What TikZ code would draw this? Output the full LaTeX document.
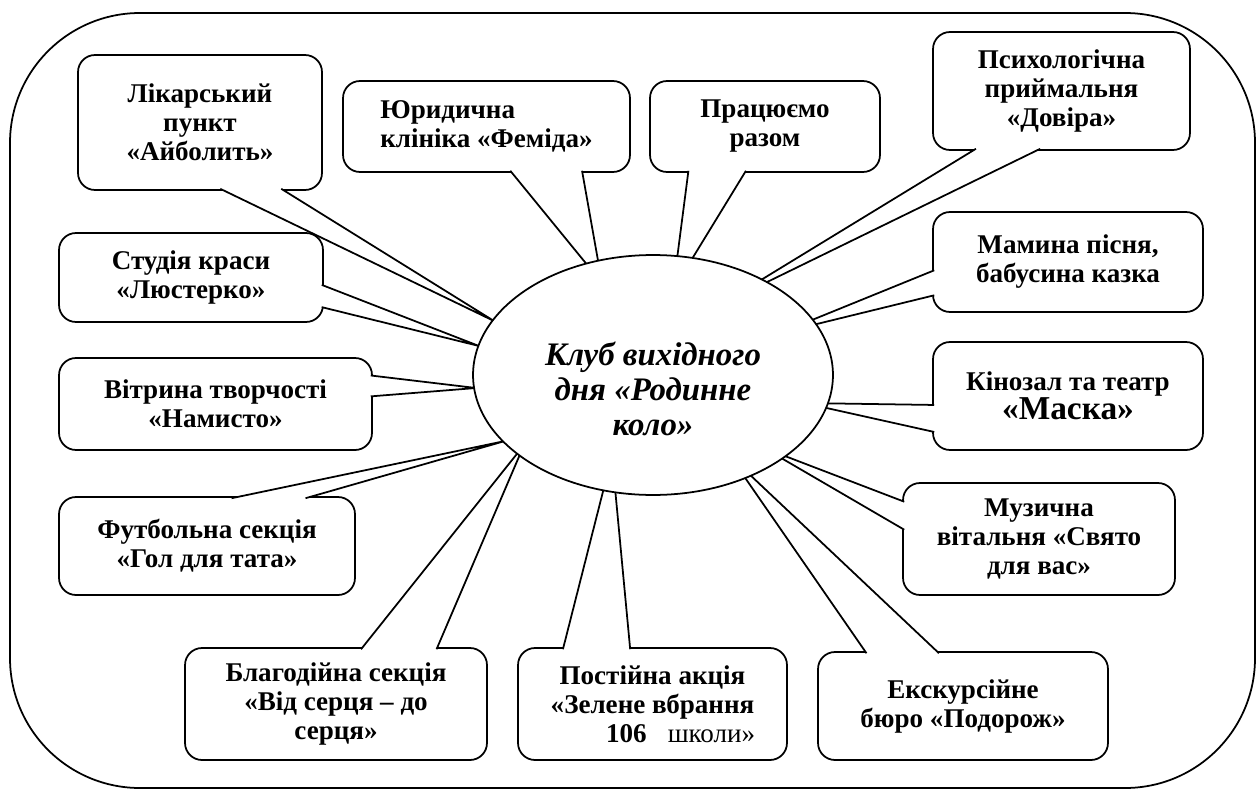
\documentclass[tikz,border=0pt]{standalone}
\usepackage{fontspec}
\setmainfont{Liberation Serif}
\usetikzlibrary{calc,shapes.geometric}

\tikzset{
  callout/.style={draw, fill=white, line width=1pt, rounded corners=0.34cm, align=center,
    inner sep=0pt, outer sep=0pt, font=\fontsize{15.4}{16.5}\selectfont\bfseries},
  wedge/.style={draw, fill=white, line width=1pt},
  club/.style={ellipse, draw, fill=white, line width=1pt, inner sep=0pt, outer sep=0pt,
    minimum width=7.2cm, minimum height=4.8cm, align=center,
    font=\fontsize{18.7}{20}\selectfont\bfseries\itshape}
}

\begin{document}
\begin{tikzpicture}[x=0.02cm, y=-0.02cm]
\useasboundingbox (0,0) rectangle (1258,791);
\draw[line width=1pt, rounded corners=2.6cm] (10,13) rectangle (1255,788);

% the callouts
\node[callout, minimum width=4.88cm, minimum height=2.70cm] (lik) at (200,122.5) {Лікарський\\пункт\\«Айболить»};
\node[callout, align=left, minimum width=5.74cm, minimum height=1.82cm] (jur) at (486.5,126.5) {Юридична\\клініка «Феміда»};
\node[callout, minimum width=4.60cm, minimum height=1.82cm] (prac) at (765,126.5) {Працюємо\\разом};
\node[callout, minimum width=5.14cm, minimum height=2.36cm] (psy) at (1061.5,91) {Психологічна\\приймальня\\«Довіра»};
\node[callout, minimum width=5.40cm, minimum height=2.00cm] (mam) at (1068,262) {Мамина пісня,\\бабусина казка};
\node[callout, minimum width=5.40cm, minimum height=2.16cm] (kino) at (1068,396) {Кінозал та театр\\{\fontsize{19}{20}\selectfont «Маска»}};
\node[callout, minimum width=5.44cm, minimum height=2.24cm] (muz) at (1039,539) {Музична\\вітальня «Свято\\для вас»};
\node[callout, minimum width=5.80cm, minimum height=2.16cm] (eks) at (963,706) {Екскурсійне\\бюро «Подорож»};
\node[callout, minimum width=5.38cm, minimum height=2.24cm] (post) at (652.5,704) {Постійна акція\\«Зелене вбрання\\\hspace*{32pt}106\hspace{12pt}{\mdseries школи»}};
\node[callout, minimum width=6.04cm, minimum height=2.24cm] (blag) at (336,704) {Благодійна секція\\«Від серця – до\\серця»};
\node[callout, minimum width=5.92cm, minimum height=1.96cm] (fut) at (207,546) {Футбольна секція\\«Гол для тата»};
\node[callout, minimum width=6.26cm, minimum height=1.84cm] (vit) at (215.5,404) {Вітрина творчості\\«Намисто»};
\node[callout, minimum width=5.28cm, minimum height=1.78cm] (stud) at (191,277.5) {Студія краси\\«Люстерко»};

% wedge tips, hidden under the ellipse
\coordinate (lik-tip) at (494,321);
\coordinate (jur-tip) at (602,283);
\coordinate (prac-tip) at (673,290);
\coordinate (psy-tip) at (720,305);
\coordinate (mam-tip) at (780,333);
\coordinate (kino-tip) at (804,403);
\coordinate (muz-tip) at (764,448);
\coordinate (eks-tip) at (730,456);
\coordinate (post-tip) at (612,456);
\coordinate (blag-tip) at (524,445);
\coordinate (fut-tip) at (505,441);
\coordinate (vit-tip) at (476,388);
\coordinate (stud-tip) at (479,346);

\filldraw[wedge] ($(lik.south west)!.583!(lik.south east)+(0,-1.2)$) -- (lik-tip) -- ($(lik.south west)!.833!(lik.south east)+(0,-1.2)$);
\filldraw[wedge] ($(jur.south west)!.583!(jur.south east)+(0,-1.2)$) -- (jur-tip) -- ($(jur.south west)!.833!(jur.south east)+(0,-1.2)$);
\filldraw[wedge] ($(prac.south west)!.167!(prac.south east)+(0,-1.2)$) -- (prac-tip) -- ($(prac.south west)!.417!(prac.south east)+(0,-1.2)$);
\filldraw[wedge] ($(psy.south west)!.167!(psy.south east)+(0,-1.2)$) -- (psy-tip) -- ($(psy.south west)!.417!(psy.south east)+(0,-1.2)$);
\filldraw[wedge] ($(mam.north west)!.583!(mam.south west)+(1.2,0)$) -- (mam-tip) -- ($(mam.north west)!.833!(mam.south west)+(1.2,0)$);
\filldraw[wedge] ($(kino.north west)!.583!(kino.south west)+(1.2,0)$) -- (kino-tip) -- ($(kino.north west)!.833!(kino.south west)+(1.2,0)$);
\filldraw[wedge] ($(muz.north west)!.167!(muz.south west)+(1.2,0)$) -- (muz-tip) -- ($(muz.north west)!.417!(muz.south west)+(1.2,0)$);
\filldraw[wedge] ($(eks.north west)!.167!(eks.north east)+(0,1.2)$) -- (eks-tip) -- ($(eks.north west)!.417!(eks.north east)+(0,1.2)$);
\filldraw[wedge] ($(post.north west)!.167!(post.north east)+(0,1.2)$) -- (post-tip) -- ($(post.north west)!.417!(post.north east)+(0,1.2)$);
\filldraw[wedge] ($(blag.north west)!.583!(blag.north east)+(0,1.2)$) -- (blag-tip) -- ($(blag.north west)!.833!(blag.north east)+(0,1.2)$);
\filldraw[wedge] ($(fut.north west)!.583!(fut.north east)+(0,1.2)$) -- (fut-tip) -- ($(fut.north west)!.833!(fut.north east)+(0,1.2)$);
\filldraw[wedge] ($(vit.north east)!.19!(vit.south east)+(-1.2,0)$) -- (vit-tip) -- ($(vit.north east)!.417!(vit.south east)+(-1.2,0)$);
\filldraw[wedge] ($(stud.north east)!.583!(stud.south east)+(-1.2,0)$) -- (stud-tip) -- ($(stud.north east)!.833!(stud.south east)+(-1.2,0)$);

% the centre
\node[club] (club) at (653,375) {\rule{0pt}{29pt}Клуб вихідного\\дня «Родинне\\коло»};
\end{tikzpicture}
\end{document}
